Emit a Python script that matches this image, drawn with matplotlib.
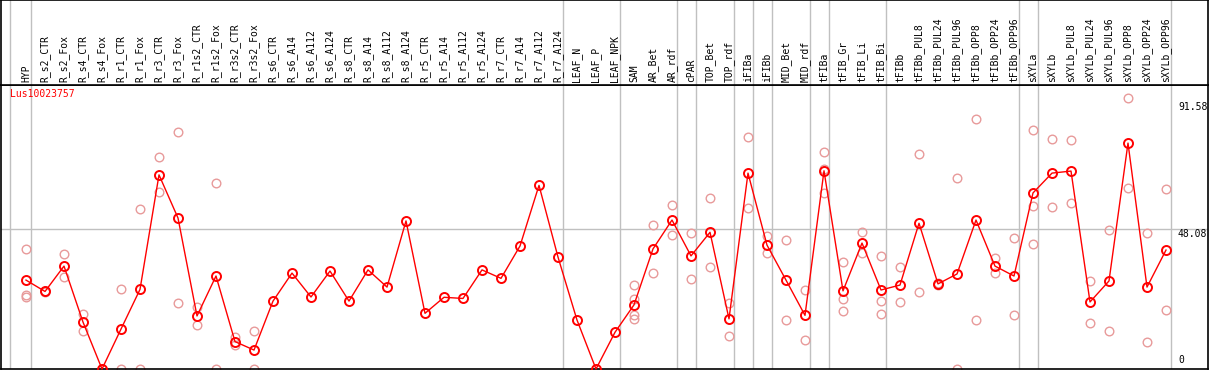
import matplotlib
matplotlib.use("Agg")
import matplotlib.pyplot as plt
import matplotlib.transforms as mtransforms

categories = ["HYP", "R_s2_CTR", "R_s2_Fox", "R_s4_CTR", "R_s4_Fox", "R_r1_CTR", "R_r1_Fox",
              "R_r3_CTR", "R_r3_Fox", "R_r1s2_CTR", "R_r1s2_Fox", "R_r3s2_CTR", "R_r3s2_Fox",
              "R_s6_CTR", "R_s6_A14", "R_s6_A112", "R_s6_A124", "R_s8_CTR", "R_s8_A14",
              "R_s8_A112", "R_s8_A124", "R_r5_CTR", "R_r5_A14", "R_r5_A112", "R_r5_A124",
              "R_r7_CTR", "R_r7_A14", "R_r7_A112", "R_r7_A124", "LEAF_N", "LEAF_P", "LEAF_NPK",
              "SAM", "AR_Bet", "AR_rdf", "cPAR", "TOP_Bet", "TOP_rdf", "iFIBa", "iFIBb",
              "MID_Bet", "MID_rdf", "tFIBa", "tFIB_Gr", "tFIB_Li", "tFIB_Bi", "tFIBb",
              "tFIBb_PUL8", "tFIBb_PUL24", "tFIBb_PUL96", "tFIBb_OPP8", "tFIBb_OPP24",
              "tFIBb_OPP96", "sXYLa", "sXYLb", "sXYLb_PUL8", "sXYLb_PUL24", "sXYLb_PUL96",
              "sXYLb_OPP8", "sXYLb_OPP24", "sXYLb_OPP96"]

mean_values = [30.5, 26.6, 35.3, 16.1, 0.0, 13.7, 27.3, 66.6, 51.8, 18.2, 31.9, 9.4, 6.5,
               23.3, 32.9, 24.7, 33.6, 23.3, 34.0, 28.1, 50.8, 19.1, 24.6, 24.2, 34.0,
               31.1, 42.2, 63.0, 38.4, 16.8, 0.0, 12.6, 22.0, 41.2, 51.1, 38.8, 46.9, 17.2,
               67.2, 42.5, 30.5, 18.4, 68.0, 26.8, 43.2, 27.1, 28.8, 50.0, 29.2, 32.6, 51.1,
               35.3, 31.9, 60.4, 67.2, 67.9, 23.0, 30.2, 77.5, 28.1, 40.8]

replicates = [
    [41.2, 25.4, 24.6], [26.9, 26.3], [39.3, 31.5], [18.9, 12.9], [0.0, 0.0],
    [27.3, 0.0], [54.9, 0.0], [72.7, 60.6], [81.3, 22.6], [21.3, 15.0], [63.7, 0.0],
    [11.1, 8.2], [13.0, 0.0],
    [], [], [], [], [], [], [], [], [], [], [], [], [], [], [], [],
    [], [], [],
    [28.8, 23.9, 18.5, 17.0], [49.4, 32.9], [56.3, 46.0], [46.5, 30.8], [58.7, 35.0],
    [22.6, 11.2], [79.6, 55.1], [45.6, 39.7], [44.1, 16.8], [27.1, 9.9],
    [74.3, 68.6, 60.5], [36.7, 23.9, 19.9], [47.0, 39.7], [38.8, 23.3, 18.9],
    [35.0, 23.0], [73.8, 26.4], [29.4, 28.7], [65.5, 0.0], [85.8, 16.8], [38.1, 32.9],
    [44.8, 18.5], [82.0, 55.9, 42.9], [78.9, 55.6], [78.6, 56.9], [30.2, 15.8],
    [47.7, 13.0], [93.0, 62.1], [46.5, 9.2], [61.6, 20.1],
]

group_boundaries = [-0.83, 0.25, 28.25, 31.25, 34.25, 35.25, 37.25, 38.25, 39.25, 41.25,
                    42.25, 45.25, 52.25, 53.25, 60.25]
axis_labels = [91.58, 48.08, 0]
gene_name = "Lus10023757"

W, H = 1209, 370
fig = plt.figure(figsize=(W / 100, H / 100), dpi=100)
fig.patch.set_facecolor("white")

x = list(range(len(categories)))
xmin, xmax = (1 - 26) / 19, (1208 - 26) / 19
ymax = (369 - 85) / 2.915

mono = "DejaVu Sans Mono"
grid_c = "#c0c0c0"

# main axes
ax = fig.add_axes([1 / W, 1 / H, 1207 / W, 284 / H])
ax.set_xlim(xmin, xmax)
ax.set_ylim(0, ymax)
ax.set_xticks([])
ax.set_yticks([])
for s in ax.spines.values():
    s.set_color("black")
    s.set_linewidth(1.2)
for gb in group_boundaries:
    ax.axvline(gb, color=grid_c, lw=1.0, zorder=0)
ax.axhline(axis_labels[1], color=grid_c, lw=1.0, zorder=0)

for i, reps in enumerate(replicates):
    if reps:
        ax.plot([i] * len(reps), reps, linestyle="none", marker="o", markersize=6.2,
                markerfacecolor="none", markeredgecolor="#e89a9a", markeredgewidth=1.0,
                clip_on=False, zorder=2)

ax.plot(x, mean_values, color="#ff0000", lw=1.0, marker="o", markersize=6.5,
        markerfacecolor="none", markeredgecolor="#ff0000", markeredgewidth=1.4,
        clip_on=False, zorder=3)

ax.text(9 / 1207, 1 - 4 / 284, gene_name, transform=ax.transAxes, color="#ff0000",
        family=mono, fontsize=7, va="top", ha="left")

tr = mtransforms.blended_transform_factory(ax.transAxes, ax.transData)
lx = (1178 - 1) / 1207
ax.text(lx, axis_labels[0], f"{axis_labels[0]:.2f}", transform=tr, family=mono,
        fontsize=7, va="top", ha="left")
ax.text(lx, axis_labels[1], f"{axis_labels[1]:.2f}", transform=tr, family=mono,
        fontsize=7, va="top", ha="left")
ax.text(lx, 0, f"{axis_labels[2]}", transform=mtransforms.offset_copy(tr, fig=fig, x=0, y=4, units="dots"),
        family=mono, fontsize=7, va="bottom", ha="left")

# header axes
axh = fig.add_axes([1 / W, 285 / H, 1207 / W, 85 / H])
axh.set_xlim(xmin, xmax)
axh.set_ylim(0, 1)
axh.set_xticks([])
axh.set_yticks([])
for s in axh.spines.values():
    s.set_color("black")
    s.set_linewidth(1.2)
for gb in group_boundaries:
    axh.axvline(gb, color=grid_c, lw=1.0, zorder=0)
htr = mtransforms.blended_transform_factory(axh.transData, axh.transAxes)
for i, lab in enumerate(categories):
    axh.text(i, 2.5 / 85, lab, transform=htr, rotation=90, va="bottom", ha="center",
             family=mono, fontsize=7, color="black")

fig.savefig("out.png", dpi=100)
